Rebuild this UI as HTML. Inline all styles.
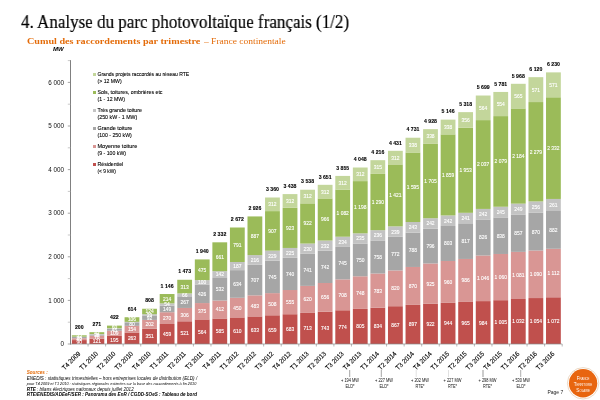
<!DOCTYPE html>
<html><head><meta charset="utf-8">
<style>
html,body{margin:0;padding:0;background:#fff;}
body > *{will-change:transform;}
body{width:600px;height:400px;position:relative;overflow:hidden;}
.t{position:absolute;white-space:nowrap;}
#title{left:21px;top:11.2px;font-family:"Liberation Serif",serif;font-size:18.9px;color:#000;-webkit-text-stroke:0.2px #000;transform:scaleX(0.9);transform-origin:0 0;}
#sub{left:26.7px;top:36px;font-family:"Liberation Serif",serif;font-size:9px;color:#E46C0A;}
#sub2{left:204px;top:36px;font-family:"Liberation Serif",serif;font-size:9px;color:#E46C0A;transform:scaleX(1.054);transform-origin:0 0;}
svg{position:absolute;left:0;top:0;}
svg text{font-family:"Liberation Sans",sans-serif;}
.sl{font-size:5.6px;fill:#fff;stroke:#fff;stroke-width:0.12px;text-anchor:middle;}
.tl{font-size:5.2px;fill:#000;stroke:#000;stroke-width:0.1px;text-anchor:middle;font-weight:bold;}
.xl{font-size:6.8px;fill:#000;stroke:#000;stroke-width:0.12px;text-anchor:end;}
.yl{font-size:6.3px;fill:#111;text-anchor:end;}
.lg{font-size:5.3px;fill:#000;stroke:#000;stroke-width:0.1px;}
.an{font-size:4.5px;fill:#111;text-anchor:middle;}
.s2{font-size:4.6px;font-style:italic;fill:#000;}
</style></head><body>
<div class="t" id="title">4. Analyse du parc photovoltaïque français (1/2)</div>
<div class="t" id="sub"><b style="display:inline-block;transform:scaleX(1.128);transform-origin:0 0">Cumul des raccordements par trimestre</b></div><div class="t" id="sub2">– France continentale</div>
<svg width="600" height="400" viewBox="0 0 600 400">
<text x="53" y="51" style="font-size:6px;font-weight:bold;font-style:italic;fill:#000">MW</text>
<rect x="71.90" y="340.08" width="14.8" height="3.92" fill="#C0504D"/>
<rect x="71.90" y="338.24" width="14.8" height="1.83" fill="#D99694"/>
<rect x="71.90" y="337.02" width="14.8" height="1.22" fill="#A6A6A6"/>
<rect x="71.90" y="336.68" width="14.8" height="0.35" fill="#C3C3C3"/>
<rect x="71.90" y="335.28" width="14.8" height="1.40" fill="#9BBB59"/>
<text transform="translate(79.30,343.99) scale(0.88,1)" class="sl">90</text>
<text transform="translate(79.30,341.11) scale(0.88,1)" class="sl">42</text>
<text transform="translate(79.30,339.58) scale(0.88,1)" class="sl">28</text>
<text transform="translate(79.30,337.93) scale(0.88,1)" class="sl">32</text>
<text x="79.30" y="328.98" class="tl">200</text>
<text transform="translate(80.90,354.20) rotate(-45) scale(0.92,1)" class="xl">T4 2009</text>
<line x1="88.06" y1="344" x2="88.06" y2="346.5" stroke="#868686" stroke-width="0.6"/>
<rect x="89.46" y="338.72" width="14.8" height="5.28" fill="#C0504D"/>
<rect x="89.46" y="335.67" width="14.8" height="3.05" fill="#D99694"/>
<rect x="89.46" y="334.45" width="14.8" height="1.22" fill="#A6A6A6"/>
<rect x="89.46" y="334.02" width="14.8" height="0.44" fill="#C3C3C3"/>
<rect x="89.46" y="332.18" width="14.8" height="1.83" fill="#9BBB59"/>
<text transform="translate(96.86,343.31) scale(0.88,1)" class="sl">121</text>
<text transform="translate(96.86,339.15) scale(0.88,1)" class="sl">70</text>
<text transform="translate(96.86,337.01) scale(0.88,1)" class="sl">28</text>
<text transform="translate(96.86,335.05) scale(0.88,1)" class="sl">42</text>
<text x="96.86" y="325.88" class="tl">271</text>
<text transform="translate(98.46,354.20) rotate(-45) scale(0.92,1)" class="xl">T1 2010</text>
<line x1="105.62" y1="344" x2="105.62" y2="346.5" stroke="#868686" stroke-width="0.6"/>
<rect x="107.02" y="335.50" width="14.8" height="8.50" fill="#C0504D"/>
<rect x="107.02" y="330.75" width="14.8" height="4.75" fill="#D99694"/>
<rect x="107.02" y="328.78" width="14.8" height="1.96" fill="#A6A6A6"/>
<rect x="107.02" y="328.22" width="14.8" height="0.57" fill="#C3C3C3"/>
<rect x="107.02" y="325.60" width="14.8" height="2.62" fill="#9BBB59"/>
<text transform="translate(114.42,341.70) scale(0.88,1)" class="sl">195</text>
<text transform="translate(114.42,335.07) scale(0.88,1)" class="sl">109</text>
<text transform="translate(114.42,331.71) scale(0.88,1)" class="sl">45</text>
<text transform="translate(114.42,328.86) scale(0.88,1)" class="sl">60</text>
<text x="114.42" y="319.30" class="tl">422</text>
<text transform="translate(116.02,354.20) rotate(-45) scale(0.92,1)" class="xl">T2 2010</text>
<line x1="123.18" y1="344" x2="123.18" y2="346.5" stroke="#868686" stroke-width="0.6"/>
<rect x="124.58" y="332.53" width="14.8" height="11.47" fill="#C0504D"/>
<rect x="124.58" y="325.82" width="14.8" height="6.71" fill="#D99694"/>
<rect x="124.58" y="322.33" width="14.8" height="3.49" fill="#A6A6A6"/>
<rect x="124.58" y="321.85" width="14.8" height="0.48" fill="#C3C3C3"/>
<rect x="124.58" y="317.23" width="14.8" height="4.62" fill="#9BBB59"/>
<text transform="translate(131.98,340.22) scale(0.88,1)" class="sl">263</text>
<text transform="translate(131.98,331.13) scale(0.88,1)" class="sl">154</text>
<text transform="translate(131.98,326.02) scale(0.88,1)" class="sl">80</text>
<text transform="translate(131.98,321.49) scale(0.88,1)" class="sl">106</text>
<text x="131.98" y="310.93" class="tl">614</text>
<text transform="translate(133.58,354.20) rotate(-45) scale(0.92,1)" class="xl">T3 2010</text>
<line x1="140.74" y1="344" x2="140.74" y2="346.5" stroke="#868686" stroke-width="0.6"/>
<rect x="142.14" y="328.70" width="14.8" height="15.30" fill="#C0504D"/>
<rect x="142.14" y="319.89" width="14.8" height="8.81" fill="#D99694"/>
<rect x="142.14" y="315.88" width="14.8" height="4.01" fill="#A6A6A6"/>
<rect x="142.14" y="314.18" width="14.8" height="1.70" fill="#C3C3C3"/>
<rect x="142.14" y="308.77" width="14.8" height="5.41" fill="#9BBB59"/>
<text transform="translate(149.54,338.30) scale(0.88,1)" class="sl">351</text>
<text transform="translate(149.54,326.24) scale(0.88,1)" class="sl">202</text>
<text transform="translate(149.54,319.83) scale(0.88,1)" class="sl">92</text>
<text transform="translate(149.54,316.98) scale(0.88,1)" class="sl">39</text>
<text transform="translate(149.54,313.42) scale(0.88,1)" class="sl">124</text>
<text x="149.54" y="302.47" class="tl">808</text>
<text transform="translate(151.14,354.20) rotate(-45) scale(0.92,1)" class="xl">T4 2010</text>
<line x1="158.30" y1="344" x2="158.30" y2="346.5" stroke="#868686" stroke-width="0.6"/>
<rect x="159.70" y="323.99" width="14.8" height="20.01" fill="#C0504D"/>
<rect x="159.70" y="312.22" width="14.8" height="11.77" fill="#D99694"/>
<rect x="159.70" y="305.72" width="14.8" height="6.50" fill="#A6A6A6"/>
<rect x="159.70" y="303.36" width="14.8" height="2.35" fill="#C3C3C3"/>
<rect x="159.70" y="294.03" width="14.8" height="9.33" fill="#9BBB59"/>
<text transform="translate(167.10,335.94) scale(0.88,1)" class="sl">459</text>
<text transform="translate(167.10,320.05) scale(0.88,1)" class="sl">270</text>
<text transform="translate(167.10,310.92) scale(0.88,1)" class="sl">149</text>
<text transform="translate(167.10,306.49) scale(0.88,1)" class="sl">54</text>
<text transform="translate(167.10,300.65) scale(0.88,1)" class="sl">214</text>
<text x="167.10" y="287.73" class="tl">1 146</text>
<text transform="translate(168.70,354.20) rotate(-45) scale(0.92,1)" class="xl">T1 2011</text>
<line x1="175.86" y1="344" x2="175.86" y2="346.5" stroke="#868686" stroke-width="0.6"/>
<rect x="177.26" y="321.28" width="14.8" height="22.72" fill="#C0504D"/>
<rect x="177.26" y="307.94" width="14.8" height="13.34" fill="#D99694"/>
<rect x="177.26" y="296.30" width="14.8" height="11.64" fill="#A6A6A6"/>
<rect x="177.26" y="293.42" width="14.8" height="2.88" fill="#C3C3C3"/>
<rect x="177.26" y="279.78" width="14.8" height="13.65" fill="#9BBB59"/>
<text transform="translate(184.66,334.59) scale(0.88,1)" class="sl">521</text>
<text transform="translate(184.66,316.56) scale(0.88,1)" class="sl">306</text>
<text transform="translate(184.66,304.07) scale(0.88,1)" class="sl">267</text>
<text transform="translate(184.66,296.81) scale(0.88,1)" class="sl">66</text>
<text transform="translate(184.66,288.55) scale(0.88,1)" class="sl">313</text>
<text x="184.66" y="273.48" class="tl">1 473</text>
<text transform="translate(186.26,354.20) rotate(-45) scale(0.92,1)" class="xl">T2 2011</text>
<line x1="193.42" y1="344" x2="193.42" y2="346.5" stroke="#868686" stroke-width="0.6"/>
<rect x="194.82" y="319.41" width="14.8" height="24.59" fill="#C0504D"/>
<rect x="194.82" y="303.06" width="14.8" height="16.35" fill="#D99694"/>
<rect x="194.82" y="284.49" width="14.8" height="18.57" fill="#A6A6A6"/>
<rect x="194.82" y="280.13" width="14.8" height="4.36" fill="#C3C3C3"/>
<rect x="194.82" y="259.42" width="14.8" height="20.71" fill="#9BBB59"/>
<text transform="translate(202.22,333.65) scale(0.88,1)" class="sl">564</text>
<text transform="translate(202.22,313.18) scale(0.88,1)" class="sl">375</text>
<text transform="translate(202.22,295.72) scale(0.88,1)" class="sl">426</text>
<text transform="translate(202.22,284.26) scale(0.88,1)" class="sl">100</text>
<text transform="translate(202.22,271.72) scale(0.88,1)" class="sl">475</text>
<text x="202.22" y="253.12" class="tl">1 940</text>
<text transform="translate(203.82,354.20) rotate(-45) scale(0.92,1)" class="xl">T3 2011</text>
<line x1="210.98" y1="344" x2="210.98" y2="346.5" stroke="#868686" stroke-width="0.6"/>
<rect x="212.38" y="318.49" width="14.8" height="25.51" fill="#C0504D"/>
<rect x="212.38" y="300.53" width="14.8" height="17.96" fill="#D99694"/>
<rect x="212.38" y="277.34" width="14.8" height="23.20" fill="#A6A6A6"/>
<rect x="212.38" y="271.14" width="14.8" height="6.19" fill="#C3C3C3"/>
<rect x="212.38" y="242.32" width="14.8" height="28.82" fill="#9BBB59"/>
<text transform="translate(219.78,333.20) scale(0.88,1)" class="sl">585</text>
<text transform="translate(219.78,311.46) scale(0.88,1)" class="sl">412</text>
<text transform="translate(219.78,290.88) scale(0.88,1)" class="sl">532</text>
<text transform="translate(219.78,276.19) scale(0.88,1)" class="sl">142</text>
<text transform="translate(219.78,258.68) scale(0.88,1)" class="sl">661</text>
<text x="219.78" y="236.02" class="tl">2 332</text>
<text transform="translate(221.38,354.20) rotate(-45) scale(0.92,1)" class="xl">T4 2011</text>
<line x1="228.54" y1="344" x2="228.54" y2="346.5" stroke="#868686" stroke-width="0.6"/>
<rect x="229.94" y="317.40" width="14.8" height="26.60" fill="#C0504D"/>
<rect x="229.94" y="297.78" width="14.8" height="19.62" fill="#D99694"/>
<rect x="229.94" y="270.14" width="14.8" height="27.64" fill="#A6A6A6"/>
<rect x="229.94" y="261.99" width="14.8" height="8.15" fill="#C3C3C3"/>
<rect x="229.94" y="227.50" width="14.8" height="34.49" fill="#9BBB59"/>
<text transform="translate(237.34,332.65) scale(0.88,1)" class="sl">610</text>
<text transform="translate(237.34,309.54) scale(0.88,1)" class="sl">450</text>
<text transform="translate(237.34,285.91) scale(0.88,1)" class="sl">634</text>
<text transform="translate(237.34,268.01) scale(0.88,1)" class="sl">187</text>
<text transform="translate(237.34,246.69) scale(0.88,1)" class="sl">791</text>
<text x="237.34" y="221.20" class="tl">2 672</text>
<text transform="translate(238.94,354.20) rotate(-45) scale(0.92,1)" class="xl">T1 2012</text>
<line x1="246.10" y1="344" x2="246.10" y2="346.5" stroke="#868686" stroke-width="0.6"/>
<rect x="247.50" y="316.40" width="14.8" height="27.60" fill="#C0504D"/>
<rect x="247.50" y="295.34" width="14.8" height="21.06" fill="#D99694"/>
<rect x="247.50" y="264.52" width="14.8" height="30.83" fill="#A6A6A6"/>
<rect x="247.50" y="255.10" width="14.8" height="9.42" fill="#C3C3C3"/>
<rect x="247.50" y="216.43" width="14.8" height="38.67" fill="#9BBB59"/>
<text transform="translate(254.90,332.15) scale(0.88,1)" class="sl">633</text>
<text transform="translate(254.90,307.82) scale(0.88,1)" class="sl">483</text>
<text transform="translate(254.90,281.88) scale(0.88,1)" class="sl">707</text>
<text transform="translate(254.90,261.76) scale(0.88,1)" class="sl">216</text>
<text transform="translate(254.90,237.71) scale(0.88,1)" class="sl">887</text>
<text x="254.90" y="210.13" class="tl">2 926</text>
<text transform="translate(256.50,354.20) rotate(-45) scale(0.92,1)" class="xl">T2 2012</text>
<line x1="263.66" y1="344" x2="263.66" y2="346.5" stroke="#868686" stroke-width="0.6"/>
<rect x="265.06" y="315.27" width="14.8" height="28.73" fill="#C0504D"/>
<rect x="265.06" y="293.12" width="14.8" height="22.15" fill="#D99694"/>
<rect x="265.06" y="260.64" width="14.8" height="32.48" fill="#A6A6A6"/>
<rect x="265.06" y="250.65" width="14.8" height="9.98" fill="#C3C3C3"/>
<rect x="265.06" y="211.11" width="14.8" height="39.55" fill="#9BBB59"/>
<rect x="265.06" y="197.50" width="14.8" height="13.60" fill="#C3D69B"/>
<text transform="translate(272.46,331.58) scale(0.88,1)" class="sl">659</text>
<text transform="translate(272.46,306.14) scale(0.88,1)" class="sl">508</text>
<text transform="translate(272.46,278.83) scale(0.88,1)" class="sl">745</text>
<text transform="translate(272.46,257.59) scale(0.88,1)" class="sl">229</text>
<text transform="translate(272.46,232.83) scale(0.88,1)" class="sl">907</text>
<text transform="translate(272.46,206.26) scale(0.88,1)" class="sl">312</text>
<text x="272.46" y="191.20" class="tl">3 360</text>
<text transform="translate(274.06,354.20) rotate(-45) scale(0.92,1)" class="xl">T3 2012</text>
<line x1="281.22" y1="344" x2="281.22" y2="346.5" stroke="#868686" stroke-width="0.6"/>
<rect x="282.62" y="314.22" width="14.8" height="29.78" fill="#C0504D"/>
<rect x="282.62" y="290.02" width="14.8" height="24.20" fill="#D99694"/>
<rect x="282.62" y="257.76" width="14.8" height="32.26" fill="#A6A6A6"/>
<rect x="282.62" y="247.95" width="14.8" height="9.81" fill="#C3C3C3"/>
<rect x="282.62" y="207.71" width="14.8" height="40.24" fill="#9BBB59"/>
<rect x="282.62" y="194.10" width="14.8" height="13.60" fill="#C3D69B"/>
<text transform="translate(290.02,331.06) scale(0.88,1)" class="sl">683</text>
<text transform="translate(290.02,304.07) scale(0.88,1)" class="sl">555</text>
<text transform="translate(290.02,275.84) scale(0.88,1)" class="sl">740</text>
<text transform="translate(290.02,254.80) scale(0.88,1)" class="sl">225</text>
<text transform="translate(290.02,229.78) scale(0.88,1)" class="sl">923</text>
<text transform="translate(290.02,202.85) scale(0.88,1)" class="sl">312</text>
<text x="290.02" y="187.80" class="tl">3 438</text>
<text transform="translate(291.62,354.20) rotate(-45) scale(0.92,1)" class="xl">T4 2012</text>
<line x1="298.78" y1="344" x2="298.78" y2="346.5" stroke="#868686" stroke-width="0.6"/>
<rect x="300.18" y="312.91" width="14.8" height="31.09" fill="#C0504D"/>
<rect x="300.18" y="285.88" width="14.8" height="27.03" fill="#D99694"/>
<rect x="300.18" y="253.57" width="14.8" height="32.31" fill="#A6A6A6"/>
<rect x="300.18" y="243.55" width="14.8" height="10.03" fill="#C3C3C3"/>
<rect x="300.18" y="203.35" width="14.8" height="40.20" fill="#9BBB59"/>
<rect x="300.18" y="189.74" width="14.8" height="13.60" fill="#C3D69B"/>
<text transform="translate(307.58,330.41) scale(0.88,1)" class="sl">713</text>
<text transform="translate(307.58,301.35) scale(0.88,1)" class="sl">620</text>
<text transform="translate(307.58,271.68) scale(0.88,1)" class="sl">741</text>
<text transform="translate(307.58,250.51) scale(0.88,1)" class="sl">230</text>
<text transform="translate(307.58,225.40) scale(0.88,1)" class="sl">922</text>
<text transform="translate(307.58,198.49) scale(0.88,1)" class="sl">312</text>
<text x="307.58" y="183.44" class="tl">3 538</text>
<text transform="translate(309.18,354.20) rotate(-45) scale(0.92,1)" class="xl">T1 2013</text>
<line x1="316.34" y1="344" x2="316.34" y2="346.5" stroke="#868686" stroke-width="0.6"/>
<rect x="317.74" y="311.61" width="14.8" height="32.39" fill="#C0504D"/>
<rect x="317.74" y="283.00" width="14.8" height="28.60" fill="#D99694"/>
<rect x="317.74" y="250.65" width="14.8" height="32.35" fill="#A6A6A6"/>
<rect x="317.74" y="240.54" width="14.8" height="10.12" fill="#C3C3C3"/>
<rect x="317.74" y="198.42" width="14.8" height="42.12" fill="#9BBB59"/>
<rect x="317.74" y="184.82" width="14.8" height="13.60" fill="#C3D69B"/>
<text transform="translate(325.14,329.75) scale(0.88,1)" class="sl">743</text>
<text transform="translate(325.14,299.25) scale(0.88,1)" class="sl">656</text>
<text transform="translate(325.14,268.78) scale(0.88,1)" class="sl">742</text>
<text transform="translate(325.14,247.54) scale(0.88,1)" class="sl">232</text>
<text transform="translate(325.14,221.43) scale(0.88,1)" class="sl">966</text>
<text transform="translate(325.14,193.57) scale(0.88,1)" class="sl">312</text>
<text x="325.14" y="178.52" class="tl">3 651</text>
<text transform="translate(326.74,354.20) rotate(-45) scale(0.92,1)" class="xl">T2 2013</text>
<line x1="333.90" y1="344" x2="333.90" y2="346.5" stroke="#868686" stroke-width="0.6"/>
<rect x="335.30" y="310.25" width="14.8" height="33.75" fill="#C0504D"/>
<rect x="335.30" y="279.38" width="14.8" height="30.87" fill="#D99694"/>
<rect x="335.30" y="246.90" width="14.8" height="32.48" fill="#A6A6A6"/>
<rect x="335.30" y="236.70" width="14.8" height="10.20" fill="#C3C3C3"/>
<rect x="335.30" y="189.53" width="14.8" height="47.18" fill="#9BBB59"/>
<rect x="335.30" y="175.92" width="14.8" height="13.60" fill="#C3D69B"/>
<text transform="translate(342.70,329.08) scale(0.88,1)" class="sl">774</text>
<text transform="translate(342.70,296.77) scale(0.88,1)" class="sl">708</text>
<text transform="translate(342.70,265.09) scale(0.88,1)" class="sl">745</text>
<text transform="translate(342.70,243.75) scale(0.88,1)" class="sl">234</text>
<text transform="translate(342.70,215.06) scale(0.88,1)" class="sl">1 082</text>
<text transform="translate(342.70,184.67) scale(0.88,1)" class="sl">312</text>
<text x="342.70" y="169.62" class="tl">3 855</text>
<text transform="translate(344.30,354.20) rotate(-45) scale(0.92,1)" class="xl">T3 2013</text>
<line x1="351.46" y1="344" x2="351.46" y2="346.5" stroke="#868686" stroke-width="0.6"/>
<rect x="352.86" y="308.90" width="14.8" height="35.10" fill="#C0504D"/>
<rect x="352.86" y="276.29" width="14.8" height="32.61" fill="#D99694"/>
<rect x="352.86" y="243.59" width="14.8" height="32.70" fill="#A6A6A6"/>
<rect x="352.86" y="233.34" width="14.8" height="10.25" fill="#C3C3C3"/>
<rect x="352.86" y="181.11" width="14.8" height="52.23" fill="#9BBB59"/>
<rect x="352.86" y="167.51" width="14.8" height="13.60" fill="#C3D69B"/>
<text transform="translate(360.26,328.40) scale(0.88,1)" class="sl">805</text>
<text transform="translate(360.26,294.55) scale(0.88,1)" class="sl">748</text>
<text transform="translate(360.26,261.89) scale(0.88,1)" class="sl">750</text>
<text transform="translate(360.26,240.42) scale(0.88,1)" class="sl">235</text>
<text transform="translate(360.26,209.18) scale(0.88,1)" class="sl">1 198</text>
<text transform="translate(360.26,176.26) scale(0.88,1)" class="sl">312</text>
<text x="360.26" y="161.21" class="tl">4 048</text>
<text transform="translate(361.86,354.20) rotate(-45) scale(0.92,1)" class="xl">T4 2013</text>
<line x1="369.02" y1="344" x2="369.02" y2="346.5" stroke="#868686" stroke-width="0.6"/>
<rect x="370.42" y="307.64" width="14.8" height="36.36" fill="#C0504D"/>
<rect x="370.42" y="273.50" width="14.8" height="34.14" fill="#D99694"/>
<rect x="370.42" y="240.45" width="14.8" height="33.05" fill="#A6A6A6"/>
<rect x="370.42" y="230.16" width="14.8" height="10.29" fill="#C3C3C3"/>
<rect x="370.42" y="173.92" width="14.8" height="56.24" fill="#9BBB59"/>
<rect x="370.42" y="160.18" width="14.8" height="13.73" fill="#C3D69B"/>
<text transform="translate(377.82,327.77) scale(0.88,1)" class="sl">834</text>
<text transform="translate(377.82,292.52) scale(0.88,1)" class="sl">783</text>
<text transform="translate(377.82,258.92) scale(0.88,1)" class="sl">758</text>
<text transform="translate(377.82,237.26) scale(0.88,1)" class="sl">236</text>
<text transform="translate(377.82,203.99) scale(0.88,1)" class="sl">1 290</text>
<text transform="translate(377.82,169.00) scale(0.88,1)" class="sl">315</text>
<text x="377.82" y="153.88" class="tl">4 216</text>
<text transform="translate(379.42,354.20) rotate(-45) scale(0.92,1)" class="xl">T1 2014</text>
<line x1="386.58" y1="344" x2="386.58" y2="346.5" stroke="#868686" stroke-width="0.6"/>
<rect x="387.98" y="306.20" width="14.8" height="37.80" fill="#C0504D"/>
<rect x="387.98" y="270.45" width="14.8" height="35.75" fill="#D99694"/>
<rect x="387.98" y="236.79" width="14.8" height="33.66" fill="#A6A6A6"/>
<rect x="387.98" y="226.37" width="14.8" height="10.42" fill="#C3C3C3"/>
<rect x="387.98" y="164.41" width="14.8" height="61.96" fill="#9BBB59"/>
<rect x="387.98" y="150.81" width="14.8" height="13.60" fill="#C3D69B"/>
<text transform="translate(395.38,327.05) scale(0.88,1)" class="sl">867</text>
<text transform="translate(395.38,290.27) scale(0.88,1)" class="sl">820</text>
<text transform="translate(395.38,255.57) scale(0.88,1)" class="sl">772</text>
<text transform="translate(395.38,233.53) scale(0.88,1)" class="sl">239</text>
<text transform="translate(395.38,197.34) scale(0.88,1)" class="sl">1 421</text>
<text transform="translate(395.38,159.56) scale(0.88,1)" class="sl">312</text>
<text x="395.38" y="144.51" class="tl">4 431</text>
<text transform="translate(396.98,354.20) rotate(-45) scale(0.92,1)" class="xl">T2 2014</text>
<line x1="404.14" y1="344" x2="404.14" y2="346.5" stroke="#868686" stroke-width="0.6"/>
<rect x="405.54" y="304.89" width="14.8" height="39.11" fill="#C0504D"/>
<rect x="405.54" y="266.96" width="14.8" height="37.93" fill="#D99694"/>
<rect x="405.54" y="232.60" width="14.8" height="34.36" fill="#A6A6A6"/>
<rect x="405.54" y="222.01" width="14.8" height="10.59" fill="#C3C3C3"/>
<rect x="405.54" y="152.47" width="14.8" height="69.54" fill="#9BBB59"/>
<rect x="405.54" y="137.73" width="14.8" height="14.74" fill="#C3D69B"/>
<text transform="translate(412.94,326.40) scale(0.88,1)" class="sl">897</text>
<text transform="translate(412.94,287.87) scale(0.88,1)" class="sl">870</text>
<text transform="translate(412.94,251.73) scale(0.88,1)" class="sl">788</text>
<text transform="translate(412.94,229.25) scale(0.88,1)" class="sl">243</text>
<text transform="translate(412.94,189.19) scale(0.88,1)" class="sl">1 595</text>
<text transform="translate(412.94,147.05) scale(0.88,1)" class="sl">338</text>
<text x="412.94" y="131.43" class="tl">4 731</text>
<text transform="translate(414.54,354.20) rotate(-45) scale(0.92,1)" class="xl">T3 2014</text>
<line x1="421.70" y1="344" x2="421.70" y2="346.5" stroke="#868686" stroke-width="0.6"/>
<rect x="423.10" y="303.80" width="14.8" height="40.20" fill="#C0504D"/>
<rect x="423.10" y="263.47" width="14.8" height="40.33" fill="#D99694"/>
<rect x="423.10" y="228.77" width="14.8" height="34.71" fill="#A6A6A6"/>
<rect x="423.10" y="218.21" width="14.8" height="10.55" fill="#C3C3C3"/>
<rect x="423.10" y="143.88" width="14.8" height="74.34" fill="#9BBB59"/>
<rect x="423.10" y="129.14" width="14.8" height="14.74" fill="#C3D69B"/>
<text transform="translate(430.50,325.85) scale(0.88,1)" class="sl">922</text>
<text transform="translate(430.50,285.59) scale(0.88,1)" class="sl">925</text>
<text transform="translate(430.50,248.07) scale(0.88,1)" class="sl">796</text>
<text transform="translate(430.50,225.44) scale(0.88,1)" class="sl">242</text>
<text transform="translate(430.50,182.99) scale(0.88,1)" class="sl">1 705</text>
<text transform="translate(430.50,138.46) scale(0.88,1)" class="sl">338</text>
<text x="430.50" y="122.84" class="tl">4 928</text>
<text transform="translate(432.10,354.20) rotate(-45) scale(0.92,1)" class="xl">T4 2014</text>
<line x1="439.26" y1="344" x2="439.26" y2="346.5" stroke="#868686" stroke-width="0.6"/>
<rect x="440.66" y="302.84" width="14.8" height="41.16" fill="#C0504D"/>
<rect x="440.66" y="260.99" width="14.8" height="41.86" fill="#D99694"/>
<rect x="440.66" y="225.97" width="14.8" height="35.01" fill="#A6A6A6"/>
<rect x="440.66" y="215.42" width="14.8" height="10.55" fill="#C3C3C3"/>
<rect x="440.66" y="134.37" width="14.8" height="81.05" fill="#9BBB59"/>
<rect x="440.66" y="119.63" width="14.8" height="14.74" fill="#C3D69B"/>
<text transform="translate(448.06,325.37) scale(0.88,1)" class="sl">944</text>
<text transform="translate(448.06,283.86) scale(0.88,1)" class="sl">960</text>
<text transform="translate(448.06,245.43) scale(0.88,1)" class="sl">803</text>
<text transform="translate(448.06,222.65) scale(0.88,1)" class="sl">242</text>
<text transform="translate(448.06,176.85) scale(0.88,1)" class="sl">1 859</text>
<text transform="translate(448.06,128.95) scale(0.88,1)" class="sl">338</text>
<text x="448.06" y="113.33" class="tl">5 146</text>
<text transform="translate(449.66,354.20) rotate(-45) scale(0.92,1)" class="xl">T1 2015</text>
<line x1="456.82" y1="344" x2="456.82" y2="346.5" stroke="#868686" stroke-width="0.6"/>
<rect x="458.22" y="301.93" width="14.8" height="42.07" fill="#C0504D"/>
<rect x="458.22" y="258.94" width="14.8" height="42.99" fill="#D99694"/>
<rect x="458.22" y="223.32" width="14.8" height="35.62" fill="#A6A6A6"/>
<rect x="458.22" y="212.81" width="14.8" height="10.51" fill="#C3C3C3"/>
<rect x="458.22" y="127.66" width="14.8" height="85.15" fill="#9BBB59"/>
<rect x="458.22" y="112.14" width="14.8" height="15.52" fill="#C3D69B"/>
<text transform="translate(465.62,324.91) scale(0.88,1)" class="sl">965</text>
<text transform="translate(465.62,282.38) scale(0.88,1)" class="sl">986</text>
<text transform="translate(465.62,243.08) scale(0.88,1)" class="sl">817</text>
<text transform="translate(465.62,220.01) scale(0.88,1)" class="sl">241</text>
<text transform="translate(465.62,172.18) scale(0.88,1)" class="sl">1 953</text>
<text transform="translate(465.62,121.85) scale(0.88,1)" class="sl">356</text>
<text x="465.62" y="105.84" class="tl">5 318</text>
<text transform="translate(467.22,354.20) rotate(-45) scale(0.92,1)" class="xl">T2 2015</text>
<line x1="474.38" y1="344" x2="474.38" y2="346.5" stroke="#868686" stroke-width="0.6"/>
<rect x="475.78" y="301.10" width="14.8" height="42.90" fill="#C0504D"/>
<rect x="475.78" y="255.49" width="14.8" height="45.61" fill="#D99694"/>
<rect x="475.78" y="219.48" width="14.8" height="36.01" fill="#A6A6A6"/>
<rect x="475.78" y="208.93" width="14.8" height="10.55" fill="#C3C3C3"/>
<rect x="475.78" y="120.11" width="14.8" height="88.81" fill="#9BBB59"/>
<rect x="475.78" y="95.52" width="14.8" height="24.59" fill="#C3D69B"/>
<text transform="translate(483.18,324.50) scale(0.88,1)" class="sl">984</text>
<text transform="translate(483.18,280.24) scale(0.88,1)" class="sl">1 046</text>
<text transform="translate(483.18,239.44) scale(0.88,1)" class="sl">826</text>
<text transform="translate(483.18,216.15) scale(0.88,1)" class="sl">242</text>
<text transform="translate(483.18,166.47) scale(0.88,1)" class="sl">2 037</text>
<text transform="translate(483.18,109.77) scale(0.88,1)" class="sl">564</text>
<text x="483.18" y="89.22" class="tl">5 699</text>
<text transform="translate(484.78,354.20) rotate(-45) scale(0.92,1)" class="xl">T3 2015</text>
<line x1="491.94" y1="344" x2="491.94" y2="346.5" stroke="#868686" stroke-width="0.6"/>
<rect x="493.34" y="300.18" width="14.8" height="43.82" fill="#C0504D"/>
<rect x="493.34" y="253.97" width="14.8" height="46.22" fill="#D99694"/>
<rect x="493.34" y="217.43" width="14.8" height="36.54" fill="#A6A6A6"/>
<rect x="493.34" y="206.75" width="14.8" height="10.68" fill="#C3C3C3"/>
<rect x="493.34" y="116.10" width="14.8" height="90.64" fill="#9BBB59"/>
<rect x="493.34" y="91.95" width="14.8" height="24.15" fill="#C3D69B"/>
<text transform="translate(500.74,324.04) scale(0.88,1)" class="sl">1 005</text>
<text transform="translate(500.74,279.02) scale(0.88,1)" class="sl">1 060</text>
<text transform="translate(500.74,237.65) scale(0.88,1)" class="sl">838</text>
<text transform="translate(500.74,214.04) scale(0.88,1)" class="sl">245</text>
<text transform="translate(500.74,163.37) scale(0.88,1)" class="sl">2 079</text>
<text transform="translate(500.74,105.98) scale(0.88,1)" class="sl">554</text>
<text x="500.74" y="85.65" class="tl">5 781</text>
<text transform="translate(502.34,354.20) rotate(-45) scale(0.92,1)" class="xl">T4 2015</text>
<line x1="509.50" y1="344" x2="509.50" y2="346.5" stroke="#868686" stroke-width="0.6"/>
<rect x="510.90" y="299.00" width="14.8" height="45.00" fill="#C0504D"/>
<rect x="510.90" y="251.87" width="14.8" height="47.13" fill="#D99694"/>
<rect x="510.90" y="214.51" width="14.8" height="37.37" fill="#A6A6A6"/>
<rect x="510.90" y="203.65" width="14.8" height="10.86" fill="#C3C3C3"/>
<rect x="510.90" y="108.43" width="14.8" height="95.22" fill="#9BBB59"/>
<rect x="510.90" y="83.80" width="14.8" height="24.63" fill="#C3D69B"/>
<text transform="translate(518.30,323.45) scale(0.88,1)" class="sl">1 032</text>
<text transform="translate(518.30,277.39) scale(0.88,1)" class="sl">1 081</text>
<text transform="translate(518.30,235.14) scale(0.88,1)" class="sl">857</text>
<text transform="translate(518.30,211.03) scale(0.88,1)" class="sl">249</text>
<text transform="translate(518.30,157.99) scale(0.88,1)" class="sl">2 184</text>
<text transform="translate(518.30,98.06) scale(0.88,1)" class="sl">565</text>
<text x="518.30" y="77.50" class="tl">5 968</text>
<text transform="translate(519.90,354.20) rotate(-45) scale(0.92,1)" class="xl">T1 2016</text>
<line x1="527.06" y1="344" x2="527.06" y2="346.5" stroke="#868686" stroke-width="0.6"/>
<rect x="528.46" y="298.05" width="14.8" height="45.95" fill="#C0504D"/>
<rect x="528.46" y="250.52" width="14.8" height="47.52" fill="#D99694"/>
<rect x="528.46" y="212.59" width="14.8" height="37.93" fill="#A6A6A6"/>
<rect x="528.46" y="201.43" width="14.8" height="11.16" fill="#C3C3C3"/>
<rect x="528.46" y="102.06" width="14.8" height="99.36" fill="#9BBB59"/>
<rect x="528.46" y="77.17" width="14.8" height="24.90" fill="#C3D69B"/>
<text transform="translate(535.86,322.97) scale(0.88,1)" class="sl">1 054</text>
<text transform="translate(535.86,276.23) scale(0.88,1)" class="sl">1 090</text>
<text transform="translate(535.86,233.51) scale(0.88,1)" class="sl">870</text>
<text transform="translate(535.86,208.96) scale(0.88,1)" class="sl">256</text>
<text transform="translate(535.86,153.70) scale(0.88,1)" class="sl">2 279</text>
<text transform="translate(535.86,91.57) scale(0.88,1)" class="sl">571</text>
<text x="535.86" y="70.87" class="tl">6 120</text>
<text transform="translate(537.46,354.20) rotate(-45) scale(0.92,1)" class="xl">T2 2016</text>
<line x1="544.62" y1="344" x2="544.62" y2="346.5" stroke="#868686" stroke-width="0.6"/>
<rect x="546.02" y="297.26" width="14.8" height="46.74" fill="#C0504D"/>
<rect x="546.02" y="248.78" width="14.8" height="48.48" fill="#D99694"/>
<rect x="546.02" y="210.32" width="14.8" height="38.46" fill="#A6A6A6"/>
<rect x="546.02" y="198.94" width="14.8" height="11.38" fill="#C3C3C3"/>
<rect x="546.02" y="97.27" width="14.8" height="101.68" fill="#9BBB59"/>
<rect x="546.02" y="72.37" width="14.8" height="24.90" fill="#C3D69B"/>
<text transform="translate(553.42,322.58) scale(0.88,1)" class="sl">1 072</text>
<text transform="translate(553.42,274.97) scale(0.88,1)" class="sl">1 112</text>
<text transform="translate(553.42,231.50) scale(0.88,1)" class="sl">882</text>
<text transform="translate(553.42,206.58) scale(0.88,1)" class="sl">261</text>
<text transform="translate(553.42,150.06) scale(0.88,1)" class="sl">2 332</text>
<text transform="translate(553.42,86.77) scale(0.88,1)" class="sl">571</text>
<text x="553.42" y="66.07" class="tl">6 230</text>
<text transform="translate(555.02,354.20) rotate(-45) scale(0.92,1)" class="xl">T3 2016</text>
<line x1="562.18" y1="344" x2="562.18" y2="346.5" stroke="#868686" stroke-width="0.6"/>
<line x1="70.5" y1="60" x2="70.5" y2="344.5" stroke="#808080" stroke-width="1"/>
<line x1="70.5" y1="344" x2="562.18" y2="344" stroke="#868686" stroke-width="0.7"/>
<line x1="67.8" y1="344.00" x2="70.5" y2="344.00" stroke="#808080" stroke-width="0.7"/>
<text x="64.0" y="346.20" class="yl">0</text>
<line x1="67.8" y1="322.20" x2="70.5" y2="322.20" stroke="#b0b0b0" stroke-width="0.7"/>
<line x1="67.8" y1="300.40" x2="70.5" y2="300.40" stroke="#808080" stroke-width="0.7"/>
<text x="64.0" y="302.60" class="yl">1 000</text>
<line x1="67.8" y1="278.60" x2="70.5" y2="278.60" stroke="#b0b0b0" stroke-width="0.7"/>
<line x1="67.8" y1="256.80" x2="70.5" y2="256.80" stroke="#808080" stroke-width="0.7"/>
<text x="64.0" y="259.00" class="yl">2 000</text>
<line x1="67.8" y1="235.00" x2="70.5" y2="235.00" stroke="#b0b0b0" stroke-width="0.7"/>
<line x1="67.8" y1="213.20" x2="70.5" y2="213.20" stroke="#808080" stroke-width="0.7"/>
<text x="64.0" y="215.40" class="yl">3 000</text>
<line x1="67.8" y1="191.40" x2="70.5" y2="191.40" stroke="#b0b0b0" stroke-width="0.7"/>
<line x1="67.8" y1="169.60" x2="70.5" y2="169.60" stroke="#808080" stroke-width="0.7"/>
<text x="64.0" y="171.80" class="yl">4 000</text>
<line x1="67.8" y1="147.80" x2="70.5" y2="147.80" stroke="#b0b0b0" stroke-width="0.7"/>
<line x1="67.8" y1="126.00" x2="70.5" y2="126.00" stroke="#808080" stroke-width="0.7"/>
<text x="64.0" y="128.20" class="yl">5 000</text>
<line x1="67.8" y1="104.20" x2="70.5" y2="104.20" stroke="#b0b0b0" stroke-width="0.7"/>
<line x1="67.8" y1="82.40" x2="70.5" y2="82.40" stroke="#808080" stroke-width="0.7"/>
<text x="64.0" y="84.60" class="yl">6 000</text>
<line x1="67.8" y1="60.60" x2="70.5" y2="60.60" stroke="#b0b0b0" stroke-width="0.7"/>
<rect x="93" y="73" width="3" height="3" fill="#C3D69B"/>
<text x="97.5" y="76.10" class="lg" textLength="91.7" lengthAdjust="spacingAndGlyphs">Grands projets raccordés au réseau RTE</text>
<text x="97.5" y="83.10" class="lg" textLength="24.2" lengthAdjust="spacingAndGlyphs">(> 12 MW)</text>
<rect x="93" y="91" width="3" height="3" fill="#9BBB59"/>
<text x="97.5" y="94.10" class="lg" textLength="65" lengthAdjust="spacingAndGlyphs">Sols, toitures, ombrières etc</text>
<text x="97.5" y="101.10" class="lg" textLength="27.5" lengthAdjust="spacingAndGlyphs">(1 - 12 MW)</text>
<rect x="93" y="109" width="3" height="3" fill="#C3C3C3"/>
<text x="97.5" y="112.10" class="lg" textLength="44.5" lengthAdjust="spacingAndGlyphs">Très grande toiture</text>
<text x="97.5" y="119.10" class="lg" textLength="39.8" lengthAdjust="spacingAndGlyphs">(250 kW - 1 MW)</text>
<rect x="93" y="127" width="3" height="3" fill="#A6A6A6"/>
<text x="97.5" y="130.10" class="lg" textLength="34.9" lengthAdjust="spacingAndGlyphs">Grande toiture</text>
<text x="97.5" y="137.10" class="lg" textLength="34.3" lengthAdjust="spacingAndGlyphs">(100 - 250 kW)</text>
<rect x="93" y="145" width="3" height="3" fill="#D99694"/>
<text x="97.5" y="148.10" class="lg" textLength="39.8" lengthAdjust="spacingAndGlyphs">Moyenne toiture</text>
<text x="97.5" y="155.10" class="lg" textLength="28.5" lengthAdjust="spacingAndGlyphs">(9 - 100 kW)</text>
<rect x="93" y="163" width="3" height="3" fill="#C0504D"/>
<text x="97.5" y="166.10" class="lg" textLength="25.7" lengthAdjust="spacingAndGlyphs">Résidentiel</text>
<text x="97.5" y="173.10" class="lg" textLength="18.5" lengthAdjust="spacingAndGlyphs">(< 9 kW)</text>
<line x1="349.7" y1="370" x2="349.7" y2="377" stroke="#666" stroke-width="0.6"/>
<text x="350" y="382.4" class="an" textLength="18" lengthAdjust="spacingAndGlyphs">+ 194 MW</text>
<text x="350" y="387.8" class="an" textLength="9" lengthAdjust="spacingAndGlyphs">ELD*</text>
<line x1="381.3" y1="370" x2="381.3" y2="377" stroke="#666" stroke-width="0.6"/>
<text x="384" y="382.4" class="an" textLength="18" lengthAdjust="spacingAndGlyphs">+ 227 MW</text>
<text x="384" y="387.8" class="an" textLength="9" lengthAdjust="spacingAndGlyphs">ELD*</text>
<line x1="416.2" y1="370" x2="416.2" y2="377" stroke="#ccc" stroke-width="0.6"/>
<text x="420" y="382.4" class="an" textLength="18" lengthAdjust="spacingAndGlyphs">+ 202 MW</text>
<text x="420" y="387.8" class="an" textLength="9" lengthAdjust="spacingAndGlyphs">RTE*</text>
<line x1="448.5" y1="370" x2="448.5" y2="377" stroke="#ccc" stroke-width="0.6"/>
<text x="452.5" y="382.4" class="an" textLength="18" lengthAdjust="spacingAndGlyphs">+ 227 MW</text>
<text x="452.5" y="387.8" class="an" textLength="9" lengthAdjust="spacingAndGlyphs">RTE*</text>
<line x1="483" y1="370" x2="483" y2="377" stroke="#555" stroke-width="0.6"/>
<text x="487.5" y="382.4" class="an" textLength="18" lengthAdjust="spacingAndGlyphs">+ 298 MW</text>
<text x="487.5" y="387.8" class="an" textLength="9" lengthAdjust="spacingAndGlyphs">RTE*</text>
<line x1="520.7" y1="370" x2="520.7" y2="377" stroke="#777" stroke-width="0.6"/>
<text x="521" y="382.4" class="an" textLength="18" lengthAdjust="spacingAndGlyphs">+ 530 MW</text>
<text x="521" y="387.8" class="an" textLength="9" lengthAdjust="spacingAndGlyphs">ELD*</text>
<circle cx="583.1" cy="383.3" r="15.7" fill="none" stroke="#E9D5C0" stroke-width="0.9"/>
<circle cx="583.1" cy="383.3" r="14.2" fill="#E8650F"/>
<text x="583.1" y="379.5" text-anchor="middle" textLength="12.6" lengthAdjust="spacingAndGlyphs" style="font-size:5.6px;fill:#fff">F<tspan style="font-size:3.5px">RANCE</tspan></text>
<text x="582.9" y="385.6" text-anchor="middle" textLength="18.4" lengthAdjust="spacingAndGlyphs" style="font-size:5.6px;fill:#fff">T<tspan style="font-size:3.5px">ERRITOIRE</tspan></text>
<text x="583.2" y="391.5" text-anchor="middle" textLength="13.7" lengthAdjust="spacingAndGlyphs" style="font-size:5.6px;fill:#fff">S<tspan style="font-size:3.5px">OLAIRE</tspan></text>
<text x="563.3" y="394" style="font-size:5px;fill:#222;text-anchor:end">Page 7</text>
</svg>
<svg width="600" height="400" viewBox="0 0 600 400" style="position:absolute;left:0;top:0">
<text x="26.7" y="373.9" class="s2" style="fill:#E46C0A;font-size:4.9px;font-weight:bold" textLength="21" lengthAdjust="spacingAndGlyphs">Sources :</text>
<text x="26.7" y="379.6" class="s2" textLength="170.5" lengthAdjust="spacingAndGlyphs">ENEDIS : statistiques trimestrielles – hors entreprises locales de distribution (ELD) /</text>
<text x="26.7" y="385.2" class="s2" style="font-size:3.9px" textLength="169.6" lengthAdjust="spacingAndGlyphs">pour T4 2009 et T1 2010 : statistiques régionales estimées sur la base des raccordements à fin 2010</text>
<text x="26.7" y="391" class="s2" textLength="107" lengthAdjust="spacingAndGlyphs"><tspan font-weight="bold">RTE</tspan> : bilans électriques nationaux depuis juillet 2012</text>
<text x="26.7" y="395.8" class="s2" style="font-weight:bold" textLength="170.3" lengthAdjust="spacingAndGlyphs">RTE/ENEDIS/ADEeF/SER : Panorama des EnR / CGDD-SOeS : Tableau de bord</text>
</svg>
</body></html>
